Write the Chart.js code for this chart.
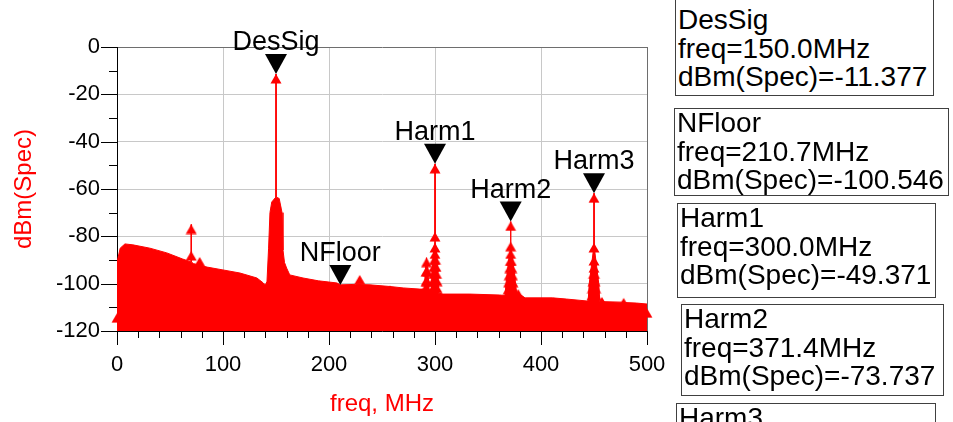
<!DOCTYPE html>
<html>
<head>
<meta charset="utf-8">
<script src="https://cdn.jsdelivr.net/npm/chart.js@4.4.1/dist/chart.umd.min.js"></script>
<style>
  html, body { margin: 0; padding: 0; background: #fff; }
  #wrap { position: relative; width: 953px; height: 422px; overflow: hidden; }
  #spec { position: absolute; left: 0; top: 0; }
  .box {
    position: absolute; box-sizing: border-box; border: 1px solid #404040;
    background: #fff; font-family: "Liberation Sans", Arial, sans-serif;
    font-size: 28px; line-height: 28.5px; color: #000; padding-left: 2px;
    white-space: nowrap;
  }
</style>
</head>
<body>
<div id="wrap">
  <canvas id="spec" width="953" height="422"></canvas>
  <div class="box" style="left:675px;top:-3px;width:259px;height:99px;padding-top:8px">DesSig<br>freq=150.0MHz<br>dBm(Spec)=-11.377</div>
  <div class="box" style="left:674px;top:108px;width:275px;height:88px">NFloor<br>freq=210.7MHz<br>dBm(Spec)=-100.546</div>
  <div class="box" style="left:677px;top:203px;width:259px;height:95px">Harm1<br>freq=300.0MHz<br>dBm(Spec)=-49.371</div>
  <div class="box" style="left:681px;top:304px;width:263px;height:92px">Harm2<br>freq=371.4MHz<br>dBm(Spec)=-73.737</div>
  <div class="box" style="left:676px;top:403px;width:260px;height:100px">Harm3<br>freq=450.0MHz<br>dBm(Spec)=-61.800</div>
</div>
<script>
// spectrum envelope (top edge of the red noise area), MHz / dBm
const specFreq = [0, 0.5, 3, 7.5, 15, 31, 47, 62, 69.8, 70, 70.2, 72, 76, 85, 100, 116, 132, 138, 140,
  141.5, 143, 144.3, 146, 149.9, 150, 150.1, 153, 155.7, 156.6, 158, 160, 163, 175.5, 190, 207.5,
  210.7, 225, 238.7, 257.5, 270, 285.8, 290, 290.5, 292, 293.5, 294.5, 296.5, 297.5, 299, 299.9,
  300, 300.1, 301, 302.5, 303.5, 307.5, 333, 361, 366, 367, 369.5, 371.3, 371.4, 371.5, 373.5,
  376, 377, 380, 385, 411, 424, 443, 444.5, 445.5, 448, 449.9, 450, 450.1, 452, 454.5, 455.5,
  459, 476, 480, 490, 500];
const specLevel = [-110, -90, -85, -83.2, -83.6, -85, -87, -89.6, -90.8, -75, -90.8, -91.5, -92, -93,
  -94.2, -95.5, -97.6, -99.7, -100.6, -99, -85, -70, -65.5, -63.4, -11.4, -63.4, -64, -70, -85.8,
  -91, -93.4, -96.3, -97.6, -98.8, -99.7, -100.5, -100.3, -100.5, -101.2, -101.8, -102.3, -102.3,
  -96, -89, -96, -102.5, -102.6, -92, -85, -82, -49.4, -82, -85, -92, -104, -104.4, -104.4, -104.8,
  -105, -100, -90, -85, -73.7, -85, -90, -100, -104, -104.5, -106, -106, -106.5, -107.3, -107.3,
  -100, -91, -84, -61.8, -84, -91, -100, -107.5, -107.6, -107.8, -108, -108.2, -108.6];

// sample points drawn with triangle symbols
const spurFreq = [0, 70, 70, 78, 150, 150, 229, 257.5,
  292, 291.5, 293, 291.5, 292.5, 291,
  300, 300, 300, 300, 299.5, 300.5, 299, 301, 298.5, 301.5, 298, 302, 298, 302,
  371.4, 371.4, 371.4, 371, 372, 370.5, 372.5, 370, 373, 369.5, 373.5, 369, 374, 378.5,
  450, 450, 450, 450, 449.5, 450.5, 449, 451, 448.5, 451.5, 448, 452, 457.5, 478, 500];
const spurLevel = [-112.5, -75, -86.2, -88.7, -11.4, -64, -96.3, -100.8,
  -89, -93, -93, -97, -97, -100,
  -49.4, -78.2, -82.8, -85.5, -88, -88, -91, -91, -94, -94, -97, -97, -100, -100,
  -73.7, -82.3, -85.5, -88.5, -88.5, -91.5, -91.5, -94.5, -94.5, -97.5, -97.5, -100.5, -100.5, -102.3,
  -61.8, -82.8, -88.3, -91.3, -94, -94, -97, -97, -100, -100, -103, -103, -105.6, -106, -110.4];

// named markers
const markerName = ['DesSig', 'NFloor', 'Harm1', 'Harm2', 'Harm3'];
const markerFreq = [150.0, 210.7, 300.0, 371.4, 450.0];
const markerLevel = [-11.377, -100.546, -49.371, -73.737, -61.8];

const xTickValues = [0, 100, 200, 300, 400, 500];
const yTickValues = [0, -20, -40, -60, -80, -100, -120];

const FONT = '"Liberation Sans", Arial, sans-serif';

// red triangle symbol, apex on the sample
const tri = document.createElement('canvas');
tri.width = 12; tri.height = 20;
const tc = tri.getContext('2d');
tc.fillStyle = '#ff0000';
tc.beginPath();
tc.moveTo(6, 10);
tc.lineTo(11.5, 19.5);
tc.lineTo(0.5, 19.5);
tc.closePath();
tc.fill();

const axisTicks = {
  id: 'axisTicks',
  afterDraw(chart) {
    const { ctx, scales: { x, y } } = chart;
    ctx.save();
    ctx.strokeStyle = '#000';
    ctx.lineWidth = 1;
    ctx.beginPath();
    for (let v = 0; v >= -120; v -= 10) {
      const py = Math.round(y.getPixelForValue(v)) + 0.5;
      const len = v % 20 === 0 ? 16 : 8;
      ctx.moveTo(x.left - len, py);
      ctx.lineTo(x.left, py);
    }
    for (let v = 0; v <= 500; v += 20) {
      const px = Math.round(x.getPixelForValue(v)) + 0.5;
      const len = v % 100 === 0 ? 14 : 7;
      ctx.moveTo(px, y.bottom);
      ctx.lineTo(px, y.bottom + len);
    }
    ctx.stroke();
    ctx.restore();
  }
};

const markerPlugin = {
  id: 'markerPlugin',
  afterDatasetsDraw(chart) {
    const { ctx, scales: { x, y } } = chart;
    ctx.save();
    ctx.fillStyle = '#000';
    ctx.font = '27px ' + FONT;
    ctx.textAlign = 'center';
    ctx.textBaseline = 'alphabetic';
    markerName.forEach((name, i) => {
      const px = x.getPixelForValue(markerFreq[i]);
      const py = y.getPixelForValue(markerLevel[i]);
      ctx.beginPath();
      ctx.moveTo(px, py);
      ctx.lineTo(px - 11, py - 20);
      ctx.lineTo(px + 11, py - 20);
      ctx.closePath();
      ctx.fill();
      ctx.fillText(name, px, py - 24);
    });
    ctx.restore();
  }
};

new Chart(document.getElementById('spec'), {
  type: 'line',
  data: {
    datasets: [
      {
        label: 'markers',
        data: spurFreq.map((f, i) => ({ x: f, y: spurLevel[i] })),
        showLine: false,
        pointStyle: tri,
        pointRadius: 5,
        clip: false,
        order: 0
      },
      {
        label: 'dBm(Spec)',
        data: specFreq.map((f, i) => ({ x: f, y: specLevel[i] })),
        borderColor: '#ff0000',
        backgroundColor: '#ff0000',
        borderWidth: 1,
        pointRadius: 0,
        fill: 'start',
        tension: 0,
        order: 1
      }
    ]
  },
  options: {
    responsive: false,
    animation: false,
    devicePixelRatio: 1,
    layout: { padding: { left: 0, top: 47, right: 306, bottom: 0 } },
    plugins: { legend: { display: false }, tooltip: { enabled: false } },
    scales: {
      x: {
        type: 'linear',
        min: 0,
        max: 500,
        afterBuildTicks: s => { s.ticks = xTickValues.map(v => ({ value: v })); },
        afterFit: s => { s.height = 91; },
        ticks: { color: '#000', font: { family: FONT, size: 22 }, padding: 21, maxRotation: 0,
          callback: v => String(v) },
        grid: {
          drawTicks: false,
          color: c => (c.tick && c.tick.value === 500 ? '#6e6e6e' : '#c8c8c8')
        },
        border: { display: true, color: '#000', width: 1 },
        title: { display: true, text: 'freq, MHz', color: '#ff0000',
          font: { family: FONT, size: 24 }, padding: { top: 0, bottom: 3 } }
      },
      y: {
        type: 'linear',
        min: -120,
        max: 0,
        afterBuildTicks: s => { s.ticks = yTickValues.map(v => ({ value: v })); },
        afterFit: s => { s.width = 117; },
        ticks: { color: '#000', font: { family: FONT, size: 22 }, padding: 17,
          callback: v => String(v) },
        grid: {
          drawTicks: false,
          color: c => (c.tick && c.tick.value === 0 ? '#6e6e6e' : '#c8c8c8')
        },
        border: { display: true, color: '#000', width: 1 },
        title: { display: true, text: 'dBm(Spec)', color: '#ff0000',
          font: { family: FONT, size: 24 }, padding: { top: 10, bottom: 0 } }
      }
    }
  },
  plugins: [axisTicks, markerPlugin]
});
</script>
</body>
</html>
